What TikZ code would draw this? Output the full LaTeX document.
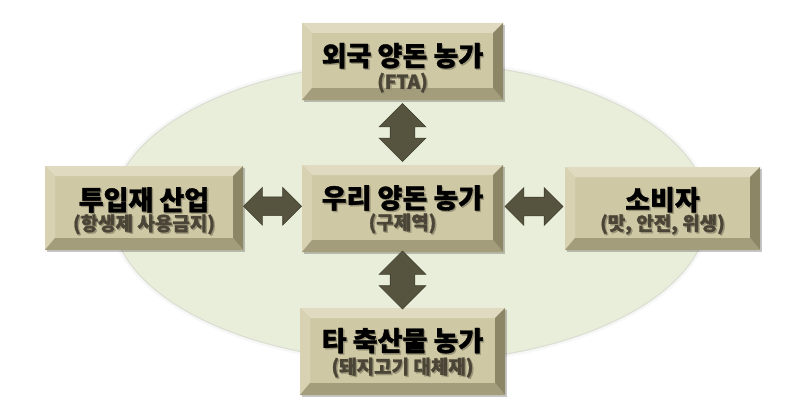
\documentclass[tikz,border=0pt]{standalone}
\usepackage{fontspec}
\setmainfont{Noto Sans CJK KR}[BoldFeatures={FakeBold=1.2}]
\usetikzlibrary{calc,shapes.arrows,shadows}
\definecolor{face}{HTML}{CEC8A5}
\definecolor{bvtop}{HTML}{E0DBC0}
\definecolor{bvleft}{HTML}{D8D2B3}
\definecolor{bvright}{HTML}{8C8666}
\definecolor{bvbot}{HTML}{A39D7C}
\definecolor{ellfill}{HTML}{E8EEDA}
\definecolor{elledge}{HTML}{DADDD0}
\definecolor{arr}{HTML}{56543F}
\definecolor{arrd}{HTML}{3F3E2D}
\definecolor{subc}{HTML}{4A4536}
\definecolor{txtsh}{HTML}{9A9478}
\newcommand\shd[1]{\leavevmode\rlap{\kern1.4pt\raisebox{-1.4pt}{\textcolor{txtsh}{#1}}}#1}
\newcommand\bt[3][0pt]{{\fontsize{27}{23}\selectfont\shd{#2}}\\[#1]{\color{subc}\shd{#3}}}
\tikzset{
  bevbox/.style={rectangle, inner sep=0pt, fill=face,
    drop shadow={shadow xshift=1.5pt, shadow yshift=-2pt, fill=black, opacity=0.22},
    path picture={
      \coordinate (sw) at (path picture bounding box.south west);
      \coordinate (ne) at (path picture bounding box.north east);
      \fill[bvtop] (sw|-ne) -- (ne) -- ($(ne)+(-10,-10)$) -- ($(sw|-ne)+(10,-10)$) -- cycle;
      \fill[bvleft] (sw) -- (sw|-ne) -- ($(sw|-ne)+(10,-10)$) -- ($(sw)+(10,12)$) -- cycle;
      \fill[bvright] (ne) -- (ne|-sw) -- ($(ne|-sw)+(-10,12)$) -- ($(ne)+(-10,-10)$) -- cycle;
      \fill[bvbot] (sw) -- (ne|-sw) -- ($(ne|-sw)+(-10,12)$) -- ($(sw)+(10,12)$) -- cycle;
    }},
  txt/.style={align=center, inner sep=0pt, font=\bfseries\fontsize{19}{23}\selectfont},
  dblarr/.style={shape=double arrow, inner xsep=0pt, fill=arr, draw=arrd, line width=0.6pt,
    double arrow tip angle=90, minimum height=58pt},
  varr/.style={dblarr, rotate=90, inner ysep=12pt, double arrow head extend=11pt},
  harr/.style={dblarr, inner ysep=9pt, double arrow head extend=9.5pt},
}
\begin{document}
\begin{tikzpicture}[x=1pt,y=1pt]
\useasboundingbox (0,0) rectangle (800,-420);
\fill[white] (0,0) rectangle (800,-420);
% background ellipse
\draw[black!6, line width=4pt, opacity=0.5] (410,-212) ellipse [x radius=299, y radius=151];
\fill[ellfill] (410,-212) ellipse [x radius=298, y radius=150];
\draw[elledge, line width=1pt] (410,-212) ellipse [x radius=298, y radius=150];
% boxes
\node[bevbox, minimum width=201pt, minimum height=77pt,
  label={[txt, yshift=-7pt]center:{\bt{외국 양돈 농가}{(FTA)}}}] (top) at (402.5,-61.5) {};
\node[bevbox, minimum width=201pt, minimum height=87pt,
  label={[txt, yshift=-1.5pt]center:{\bt[-1.5pt]{우리 양돈 농가}{(구제역)}}}] (ctr) at (402.5,-208.5) {};
\node[bevbox, minimum width=198pt, minimum height=84pt,
  label={[txt, yshift=-3.5pt]center:{\bt[-2.5pt]{투입재 산업}{(항생제 사용금지)}}}] (lft) at (144,-208) {};
\node[bevbox, minimum width=195pt, minimum height=83pt,
  label={[txt, yshift=-3pt]center:{\bt[-2.5pt]{소비자}{(맛, 안전, 위생)}}}] (rgt) at (662.5,-208.5) {};
\node[bevbox, minimum width=205pt, minimum height=87pt,
  label={[txt, yshift=-2pt]center:{\bt{타 축산물 농가}{(돼지고기 대체재)}}}] (bot) at (402.5,-351.5) {};
% arrows
\node[varr] (a1) at ($(top.south)!0.5!(ctr.north)$) {};
\node[varr] (a2) at ($(ctr.south)!0.5!(bot.north)$) {};
\node[harr] (a3) at ($(lft.east)!0.5!(ctr.west)+(0,2)$) {};
\node[harr] (a4) at ($(ctr.east)!0.5!(rgt.west)+(0,2)$) {};
\end{tikzpicture}
\end{document}
